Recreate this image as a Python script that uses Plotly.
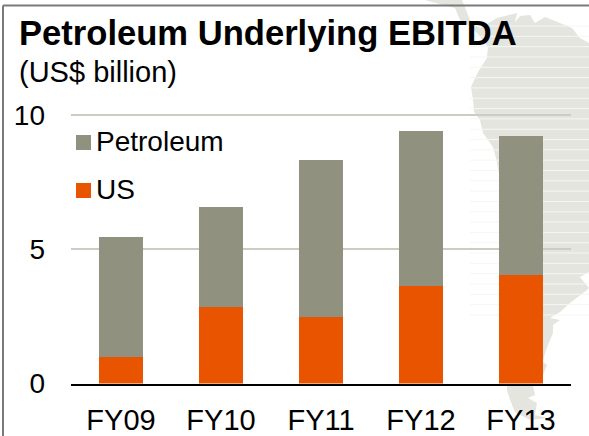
import plotly.graph_objects as go

W, H = 589, 436

years = ['FY09', 'FY10', 'FY11', 'FY12', 'FY13']
us = [0.98, 2.85, 2.48, 3.63, 4.04]
petroleum = [4.48, 3.72, 5.84, 5.79, 5.18]

GREY = '#90917f'
ORANGE = '#e95400'
MAP = '#e4e5df'

# background map outline, in picture pixels
map_top = [(425, 0), (443, 5), (455, 8), (460, 20), (468, 25), (478, 34), (488, 47), (487, 58),
           (478, 72), (471, 87), (473, 100), (474, 112), (480, 120), (483, 133), (493, 147),
           (497, 162), (503, 200), (505, 383), (540, 383), (543, 375), (547, 365), (543, 362),
           (545, 353), (548, 345), (553, 333), (553, 325), (560, 320), (550, 318), (560, 312),
           (570, 303), (587, 290), (589, 288), (580, 277), (589, 272), (589, 43), (580, 38),
           (572, 28), (560, 23), (545, 17), (535, 23), (530, 15), (520, 16), (515, 22), (517, 13),
           (497, 18), (480, 28), (470, 20), (462, 0)]
map_bottom = [(507, 386), (533, 386), (535, 395), (528, 398), (537, 403), (535, 415), (547, 418),
              (530, 420), (515, 412), (510, 400), (507, 390)]


def px(x, y):
    return x / W, 1 - y / H


def poly(points):
    return 'M' + ' L'.join('%.4f,%.4f' % px(*p) for p in points) + ' Z'


def label(text, x, y, size):
    return dict(text=text, xref='paper', yref='paper', x=x / W, y=1 - y / H, xanchor='left',
                yanchor='middle', showarrow=False, font=dict(size=size, color='black'))


def swatch(x, y, color):
    x0, y0 = px(x, y)
    x1, y1 = px(x + 15, y + 15)
    return dict(type='rect', xref='paper', yref='paper', x0=x0, y0=y0, x1=x1, y1=y1,
                fillcolor=color, line_width=0)


def rule(xa, ya, xb, yb, color='#7a7a7a', width=2):
    x0, y0 = px(xa, ya)
    x1, y1 = px(xb, yb)
    return dict(type='line', xref='paper', yref='paper', x0=x0, y0=y0, x1=x1, y1=y1,
                line=dict(color=color, width=width))


fig = go.Figure()
fig.add_trace(go.Bar(x=years, y=us, name='US', marker=dict(color=ORANGE, line_width=0), width=0.44))
fig.add_trace(go.Bar(x=years, y=petroleum, name='Petroleum', marker=dict(color=GREY, line_width=0), width=0.44))

shapes = [dict(type='path', xref='paper', yref='paper', path=poly(map_top),
               fillcolor=MAP, line_width=0, layer='below'),
          dict(type='path', xref='paper', yref='paper', path=poly(map_bottom),
               fillcolor=MAP, line_width=0, layer='below')]
# white stripes across the map
y = 26.0
while y < 320:
    x0, y0 = px(470, y)
    x1, y1 = px(589, y)
    shapes.append(dict(type='line', xref='paper', yref='paper', x0=x0, y0=y0, x1=x1, y1=y1,
                       line=dict(color='#f6f6f3', width=1), layer='below'))
    y += 10.32
# frame at top and left
shapes.append(rule(3, 5.5, W, 5.5))
shapes.append(rule(3, 5.5, 3, H))
# legend drawn by hand so the swatches sit where the original has them
shapes.append(swatch(76, 135, GREY))
shapes.append(swatch(76, 183, ORANGE))

annotations = [
    label('<b>Petroleum Underlying EBITDA</b>', 17, 33, 34.6),
    label('(US$ billion)', 17, 72, 29),
    label('Petroleum', 94, 142, 28),
    label('US', 94, 189, 28),
]

fig.update_layout(
    width=W, height=H,
    barmode='stack',
    showlegend=False,
    margin=dict(l=0, r=0, t=0, b=0),
    paper_bgcolor='white',
    plot_bgcolor='rgba(0,0,0,0)',
    font=dict(family='Liberation Sans, Arial, sans-serif', size=28, color='black'),
    shapes=shapes,
    annotations=annotations,
    xaxis=dict(domain=[71 / W, 571 / W], range=[-0.5, 4.5], type='category', showgrid=False,
               automargin=False, showline=True, linecolor='black', linewidth=2, ticks='',
               ticklabelstandoff=10, tickfont=dict(size=29)),
    # top of range nudged past 10 so plotly keeps that gridline
    yaxis=dict(domain=[52.5 / H, 322.34 / H], range=[0, 10.05], tickvals=[0, 5, 10], showgrid=True,
               automargin=False, gridcolor='#cbccc2', gridwidth=1.5, zeroline=False, showline=False,
               ticks='', ticklabelstandoff=25, tickfont=dict(size=28)),
)

fig.write_html("out.html", config=dict(displayModeBar=False),
               post_script="document.body.style.margin='0'")
